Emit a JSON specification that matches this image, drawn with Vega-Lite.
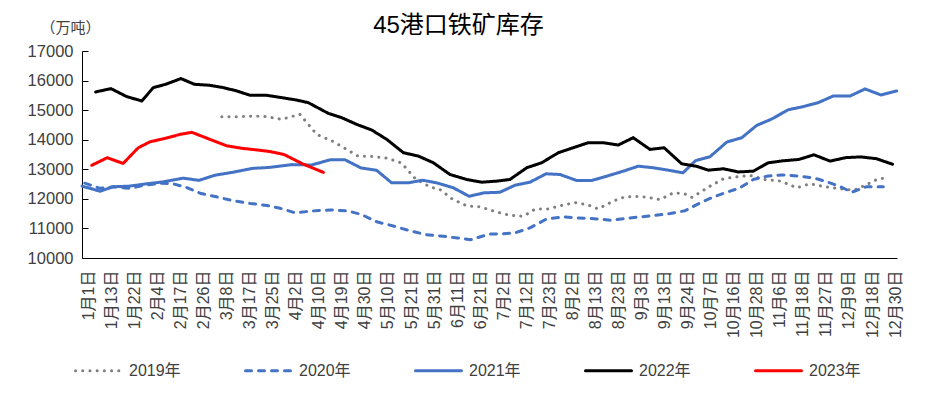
{
  "$schema": "https://vega.github.io/schema/vega-lite/v6.json",
  "width": 815,
  "height": 207,
  "autosize": {"type": "none"},
  "padding": {"left": 82, "top": 51, "right": 31, "bottom": 135},
  "background": "white",
  "title": {
    "text": "45港口铁矿库存",
    "fontSize": 24,
    "font": "Liberation Sans, Noto Sans CJK SC",
    "fontWeight": "normal",
    "color": "#000000",
    "anchor": "middle",
    "dx": -31,
    "dy": 30,
    "offset": 12
  },
  "config": {
    "view": {"stroke": null},
    "font": "Liberation Sans, Noto Sans CJK SC"
  },
  "data": {
    "values": [
      {"year":"2019年","t":5.79,"v":14780},{"year":"2019年","t":6.44,"v":14780},{"year":"2019年","t":7.16,"v":14800},{"year":"2019年","t":7.74,"v":14780},{"year":"2019年","t":8.39,"v":14690},{"year":"2019年","t":9.18,"v":14858},{"year":"2019年","t":9.91,"v":14180},{"year":"2019年","t":10.63,"v":13937},{"year":"2019年","t":11.21,"v":13672},{"year":"2019年","t":11.7,"v":13446},{"year":"2019年","t":12.36,"v":13435},{"year":"2019年","t":12.98,"v":13373},{"year":"2019年","t":13.59,"v":13210},{"year":"2019年","t":14.17,"v":12700},{"year":"2019年","t":14.82,"v":12400},{"year":"2019年","t":15.26,"v":12315},{"year":"2019年","t":15.78,"v":12000},{"year":"2019年","t":16.43,"v":11760},{"year":"2019年","t":16.99,"v":11730},{"year":"2019年","t":17.47,"v":11614},{"year":"2019年","t":18.0,"v":11492},{"year":"2019年","t":18.44,"v":11434},{"year":"2019年","t":18.87,"v":11410},{"year":"2019年","t":19.38,"v":11650},{"year":"2019年","t":19.95,"v":11661},{"year":"2019年","t":20.55,"v":11780},{"year":"2019年","t":21.11,"v":11875},{"year":"2019年","t":21.66,"v":11800},{"year":"2019年","t":22.11,"v":11661},{"year":"2019年","t":22.72,"v":11900},{"year":"2019年","t":23.11,"v":12034},{"year":"2019年","t":23.64,"v":12088},{"year":"2019年","t":24.21,"v":12060},{"year":"2019年","t":24.8,"v":11976},{"year":"2019年","t":25.38,"v":12203},{"year":"2019年","t":25.85,"v":12180},{"year":"2019年","t":26.19,"v":12050},{"year":"2019年","t":26.97,"v":12428},{"year":"2019年","t":27.55,"v":12678},{"year":"2019年","t":28.13,"v":12746},{"year":"2019年","t":28.71,"v":12790},{"year":"2019年","t":29.36,"v":12654},{"year":"2019年","t":30.05,"v":12600},{"year":"2019年","t":30.73,"v":12373},{"year":"2019年","t":31.31,"v":12510},{"year":"2019年","t":31.89,"v":12420},{"year":"2019年","t":32.54,"v":12349},{"year":"2019年","t":33.22,"v":12292},{"year":"2019年","t":33.78,"v":12485},{"year":"2019年","t":34.27,"v":12678},{"year":"2019年","t":34.56,"v":12700},
      {"year":"2020年","t":-0.15,"v":12530},{"year":"2020年","t":0.51,"v":12356},{"year":"2020年","t":1.08,"v":12406},{"year":"2020年","t":1.81,"v":12356},{"year":"2020年","t":2.5,"v":12470},{"year":"2020年","t":3.2,"v":12530},{"year":"2020年","t":3.69,"v":12508},{"year":"2020年","t":4.24,"v":12390},{"year":"2020年","t":4.85,"v":12192},{"year":"2020年","t":5.5,"v":12078},{"year":"2020年","t":6.22,"v":11948},{"year":"2020年","t":7.02,"v":11846},{"year":"2020年","t":7.74,"v":11778},{"year":"2020年","t":8.32,"v":11680},{"year":"2020年","t":8.99,"v":11525},{"year":"2020年","t":9.73,"v":11592},{"year":"2020年","t":10.52,"v":11626},{"year":"2020年","t":11.25,"v":11592},{"year":"2020年","t":11.86,"v":11468},{"year":"2020年","t":12.51,"v":11224},{"year":"2020年","t":13.23,"v":11083},{"year":"2020年","t":13.91,"v":10930},{"year":"2020年","t":14.65,"v":10790},{"year":"2020年","t":15.4,"v":10732},{"year":"2020年","t":16.02,"v":10678},{"year":"2020年","t":16.59,"v":10620},{"year":"2020年","t":17.38,"v":10807},{"year":"2020年","t":17.93,"v":10814},{"year":"2020年","t":18.51,"v":10848},{"year":"2020年","t":19.16,"v":11017},{"year":"2020年","t":19.89,"v":11322},{"year":"2020年","t":20.61,"v":11390},{"year":"2020年","t":21.26,"v":11356},{"year":"2020年","t":22.06,"v":11322},{"year":"2020年","t":22.71,"v":11275},{"year":"2020年","t":23.5,"v":11356},{"year":"2020年","t":24.23,"v":11410},{"year":"2020年","t":25.24,"v":11502},{"year":"2020年","t":25.89,"v":11600},{"year":"2020年","t":26.54,"v":11864},{"year":"2020年","t":27.11,"v":12060},{"year":"2020年","t":27.7,"v":12224},{"year":"2020年","t":28.27,"v":12373},{"year":"2020年","t":28.85,"v":12654},{"year":"2020年","t":29.43,"v":12766},{"year":"2020年","t":30.15,"v":12810},{"year":"2020年","t":30.88,"v":12766},{"year":"2020年","t":31.45,"v":12712},{"year":"2020年","t":32.03,"v":12580},{"year":"2020年","t":32.61,"v":12420},{"year":"2020年","t":33.12,"v":12224},{"year":"2020年","t":33.74,"v":12406},{"year":"2020年","t":34.49,"v":12406},
      {"year":"2021年","t":-0.27,"v":12430},{"year":"2021年","t":0.51,"v":12258},{"year":"2021年","t":1.08,"v":12410},{"year":"2021年","t":1.74,"v":12428},{"year":"2021年","t":2.53,"v":12508},{"year":"2021年","t":3.25,"v":12576},{"year":"2021年","t":4.12,"v":12700},{"year":"2021年","t":4.8,"v":12625},{"year":"2021年","t":5.5,"v":12800},{"year":"2021年","t":6.29,"v":12902},{"year":"2021年","t":7.12,"v":13030},{"year":"2021年","t":7.81,"v":13060},{"year":"2021年","t":8.84,"v":13158},{"year":"2021年","t":9.69,"v":13145},{"year":"2021年","t":10.49,"v":13320},{"year":"2021年","t":11.14,"v":13320},{"year":"2021年","t":11.83,"v":13045},{"year":"2021年","t":12.51,"v":12965},{"year":"2021年","t":13.16,"v":12542},{"year":"2021年","t":13.88,"v":12542},{"year":"2021年","t":14.5,"v":12630},{"year":"2021年","t":15.11,"v":12542},{"year":"2021年","t":15.84,"v":12373},{"year":"2021年","t":16.52,"v":12088},{"year":"2021年","t":17.17,"v":12203},{"year":"2021年","t":17.86,"v":12224},{"year":"2021年","t":18.51,"v":12461},{"year":"2021年","t":19.16,"v":12563},{"year":"2021年","t":19.86,"v":12847},{"year":"2021年","t":20.46,"v":12824},{"year":"2021年","t":21.19,"v":12620},{"year":"2021年","t":21.84,"v":12620},{"year":"2021年","t":22.49,"v":12766},{"year":"2021年","t":23.21,"v":12936},{"year":"2021年","t":23.86,"v":13105},{"year":"2021年","t":24.51,"v":13051},{"year":"2021年","t":25.16,"v":12970},{"year":"2021年","t":25.8,"v":12881},{"year":"2021年","t":26.34,"v":13290},{"year":"2021年","t":26.97,"v":13424},{"year":"2021年","t":27.7,"v":13920},{"year":"2021年","t":28.35,"v":14068},{"year":"2021年","t":29.0,"v":14485},{"year":"2021年","t":29.65,"v":14700},{"year":"2021年","t":30.37,"v":15015},{"year":"2021年","t":31.02,"v":15119},{"year":"2021年","t":31.67,"v":15254},{"year":"2021年","t":32.32,"v":15479},{"year":"2021年","t":33.05,"v":15479},{"year":"2021年","t":33.7,"v":15717},{"year":"2021年","t":34.39,"v":15512},{"year":"2021年","t":35.07,"v":15648},
      {"year":"2022年","t":0.32,"v":15615},{"year":"2022年","t":0.98,"v":15728},{"year":"2022年","t":1.67,"v":15457},{"year":"2022年","t":2.32,"v":15310},{"year":"2022年","t":2.82,"v":15762},{"year":"2022年","t":3.36,"v":15875},{"year":"2022年","t":4.02,"v":16067},{"year":"2022年","t":4.6,"v":15875},{"year":"2022年","t":5.25,"v":15841},{"year":"2022年","t":5.86,"v":15762},{"year":"2022年","t":6.44,"v":15649},{"year":"2022年","t":7.02,"v":15502},{"year":"2022年","t":7.74,"v":15502},{"year":"2022年","t":8.39,"v":15423},{"year":"2022年","t":9.04,"v":15340},{"year":"2022年","t":9.54,"v":15254},{"year":"2022年","t":10.41,"v":14892},{"year":"2022年","t":10.99,"v":14746},{"year":"2022年","t":11.64,"v":14519},{"year":"2022年","t":12.3,"v":14326},{"year":"2022年","t":12.95,"v":14010},{"year":"2022年","t":13.67,"v":13560},{"year":"2022年","t":14.32,"v":13446},{"year":"2022年","t":14.97,"v":13221},{"year":"2022年","t":15.69,"v":12824},{"year":"2022年","t":16.42,"v":12654},{"year":"2022年","t":17.07,"v":12563},{"year":"2022年","t":17.72,"v":12600},{"year":"2022年","t":18.29,"v":12654},{"year":"2022年","t":19.02,"v":13051},{"year":"2022年","t":19.67,"v":13221},{"year":"2022年","t":20.39,"v":13560},{"year":"2022年","t":21.04,"v":13729},{"year":"2022年","t":21.69,"v":13899},{"year":"2022年","t":22.34,"v":13899},{"year":"2022年","t":22.99,"v":13820},{"year":"2022年","t":23.64,"v":14068},{"year":"2022年","t":24.37,"v":13671},{"year":"2022年","t":24.98,"v":13729},{"year":"2022年","t":25.74,"v":13187},{"year":"2022年","t":26.39,"v":13100},{"year":"2022年","t":26.9,"v":12970},{"year":"2022年","t":27.55,"v":13017},{"year":"2022年","t":28.2,"v":12910},{"year":"2022年","t":28.85,"v":12937},{"year":"2022年","t":29.5,"v":13221},{"year":"2022年","t":30.18,"v":13290},{"year":"2022年","t":30.83,"v":13333},{"year":"2022年","t":31.48,"v":13490},{"year":"2022年","t":32.18,"v":13277},{"year":"2022年","t":32.87,"v":13395},{"year":"2022年","t":33.52,"v":13420},{"year":"2022年","t":34.2,"v":13356},{"year":"2022年","t":34.89,"v":13170},
      {"year":"2023年","t":0.15,"v":13135},{"year":"2023年","t":0.82,"v":13390},{"year":"2023年","t":1.51,"v":13197},{"year":"2023年","t":2.17,"v":13729},{"year":"2023年","t":2.68,"v":13930},{"year":"2023年","t":3.33,"v":14045},{"year":"2023年","t":3.98,"v":14180},{"year":"2023年","t":4.49,"v":14250},{"year":"2023年","t":5.28,"v":14010},{"year":"2023年","t":6.0,"v":13795},{"year":"2023年","t":6.66,"v":13710},{"year":"2023年","t":7.31,"v":13655},{"year":"2023年","t":7.88,"v":13600},{"year":"2023年","t":8.49,"v":13500},{"year":"2023年","t":9.31,"v":13180},{"year":"2023年","t":10.2,"v":12895}
    ]
  },
  "mark": {"type": "line", "strokeWidth": 3, "strokeCap": "round", "strokeJoin": "round"},
  "encoding": {
    "x": {
      "field": "t",
      "type": "quantitative",
      "scale": {"domain": [-0.273, 35.084], "nice": false, "zero": false},
      "axis": {
        "title": null,
        "values": [0,1,2,3,4,5,6,7,8,9,10,11,12,13,14,15,16,17,18,19,20,21,22,23,24,25,26,27,28,29,30,31,32,33,34,35],
        "labelExpr": "['1月1日','1月13日','1月22日','2月4日','2月17日','2月26日','3月8日','3月17日','3月25日','4月2日','4月10日','4月19日','4月30日','5月10日','5月21日','5月31日','6月11日','6月21日','7月2日','7月12日','7月23日','8月2日','8月13日','8月23日','9月3日','9月13日','9月24日','10月7日','10月16日','10月28日','11月6日','11月18日','11月27日','12月9日','12月18日','12月30日'][datum.value]",
        "labelAngle": 270,
        "labelAlign": "right",
        "labelBaseline": "middle",
        "labelPadding": 12,
        "ticks": false,
        "grid": false,
        "domainColor": "#000000",
        "domainWidth": 1,
        "labelFontSize": 16,
        "labelColor": "#404040",
        "labelOverlap": false,
        "labelFlush": false,
        "labelBound": false
      }
    },
    "y": {
      "field": "v",
      "type": "quantitative",
      "scale": {"domain": [10000, 17000], "nice": false, "zero": false},
      "axis": {
        "title": "（万吨）",
        "titleAngle": 0,
        "titleX": -12,
        "titleY": -24,
        "titleAlign": "center",
        "titleBaseline": "middle",
        "titleFontSize": 15,
        "titleFontWeight": "normal",
        "titleColor": "#404040",
        "values": [10000,11000,12000,13000,14000,15000,16000,17000],
        "format": "d",
        "tickSize": -6,
        "tickColor": "#000000",
        "domainColor": "#000000",
        "labelFontSize": 16.5,
        "labelColor": "#404040",
        "labelPadding": 15,
        "grid": false
      }
    },
    "color": {
      "field": "year",
      "type": "nominal",
      "scale": {
        "domain": ["2019年","2020年","2021年","2022年","2023年"],
        "range": ["#7F7F7F","#4472C4","#4472C4","#000000","#FF0000"]
      },
      "legend": {
        "title": null,
        "orient": "none",
        "legendX": -8,
        "legendY": 295,
        "direction": "horizontal",
        "columns": 5,
        "symbolType": "stroke",
        "symbolSize": 2116,
        "symbolStrokeWidth": 3,
        "labelFontSize": 16,
        "labelColor": "#404040",
        "labelOffset": 6,
        "columnPadding": 58,
        "padding": 0,
        "encode": {"symbols": {"update": {"strokeCap": {"value": "round"}}}}
      }
    },
    "strokeDash": {
      "field": "year",
      "type": "nominal",
      "scale": {
        "domain": ["2019年","2020年","2021年","2022年","2023年"],
        "range": [[0.1,7.1],[6,7],[1,0],[1,0],[1,0]]
      },
      "legend": {
        "title": null,
        "orient": "none",
        "legendX": -8,
        "legendY": 295,
        "direction": "horizontal",
        "columns": 5,
        "symbolType": "stroke",
        "symbolSize": 2116,
        "symbolStrokeWidth": 3,
        "labelFontSize": 16,
        "labelColor": "#404040",
        "labelOffset": 6,
        "columnPadding": 58,
        "padding": 0,
        "encode": {"symbols": {"update": {"strokeCap": {"value": "round"}}}}
      }
    }
  }
}
